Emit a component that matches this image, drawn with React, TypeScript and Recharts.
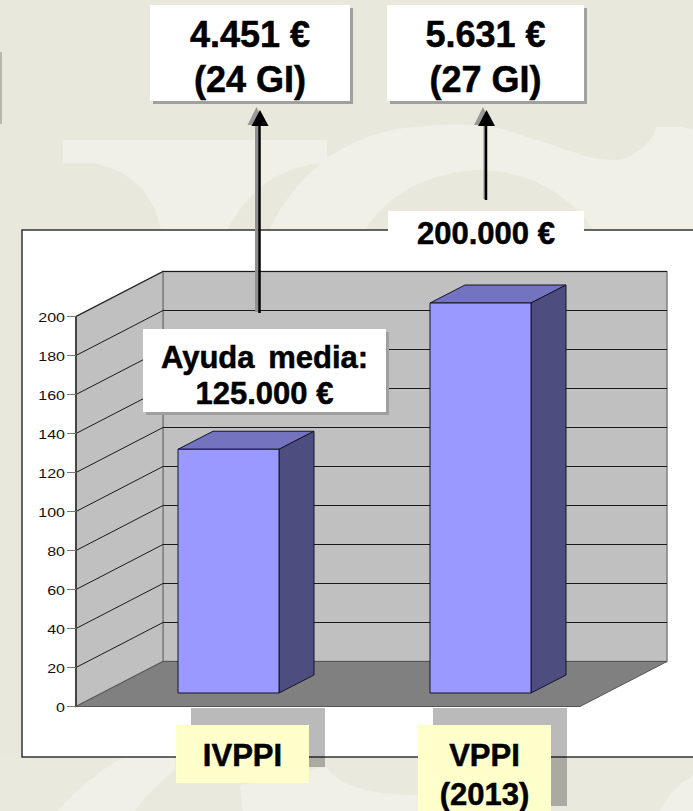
import { Bar, BarChart, ReferenceArea, ReferenceLine, XAxis, YAxis } from "recharts";

const categories = ["IVPPI", "VPPI (2013)"];
const values = [125, 200];
const yTicks = [0, 20, 40, 60, 80, 100, 120, 140, 160, 180, 200];
const gridTicks = [20, 40, 60, 80, 100, 120, 140, 160, 180, 200];

const rows = categories.map((name, i) => ({ name, value: values[i] }));

// the chart is a fake 3D box: the back wall sits this far behind the axis plane
const DEPTH_X = 87;
const DEPTH_Y = 45;
// the bars stand part way into the floor, and have their own depth
const BAR_SHIFT_X = 26;
const BAR_SHIFT_Y = 13.5;
const BAR_DX = 35;
const BAR_DY = 18;

const FONT = '"Liberation Sans", Arial, sans-serif';

function Walls(props: any) {
  const { x, y, width, height } = props;
  const bottom = y + height;
  const right = x + width;
  return (
    <g>
      <polygon
        points={`${x + DEPTH_X},${y - DEPTH_Y} ${right + DEPTH_X},${y - DEPTH_Y} ${right + DEPTH_X},${bottom - DEPTH_Y} ${x + DEPTH_X},${bottom - DEPTH_Y}`}
        fill="#c0c0c0"
        stroke="#808080"
        strokeWidth={1.5}
      />
      <polygon
        points={`${x},${y} ${x + DEPTH_X},${y - DEPTH_Y} ${x + DEPTH_X},${bottom - DEPTH_Y} ${x},${bottom}`}
        fill="#c0c0c0"
        stroke="#808080"
        strokeWidth={1.5}
      />
      <polygon
        points={`${x},${bottom} ${right},${bottom} ${right + DEPTH_X},${bottom - DEPTH_Y} ${x + DEPTH_X},${bottom - DEPTH_Y}`}
        fill="#808080"
        stroke="#555"
      />
    </g>
  );
}

function GridLine(props: any) {
  const { x1, y1, x2 } = props;
  return (
    <polyline
      points={`${x1},${y1} ${x1 + DEPTH_X},${y1 - DEPTH_Y} ${x2 + DEPTH_X},${y1 - DEPTH_Y}`}
      fill="none"
      stroke="#1a1a1a"
      strokeWidth={1}
    />
  );
}

function Bar3D(props: any) {
  const x = props.x + BAR_SHIFT_X;
  const y = props.y - BAR_SHIFT_Y;
  const { width, height } = props;
  const r = x + width;
  const b = y + height;
  return (
    <g stroke="#14142a" strokeWidth={1} strokeLinejoin="round">
      <polygon points={`${x},${y} ${r},${y} ${r + BAR_DX},${y - BAR_DY} ${x + BAR_DX},${y - BAR_DY}`} fill="#7373bf" />
      <polygon points={`${r},${y} ${r + BAR_DX},${y - BAR_DY} ${r + BAR_DX},${b - BAR_DY} ${r},${b}`} fill="#4d4d80" />
      <rect x={x} y={y} width={width} height={height} fill="#9999ff" />
    </g>
  );
}

function ValueTick(props: any) {
  const { x, y, payload } = props;
  return (
    <text
      transform={`translate(${x} ${y + 5.5}) scale(1.28 1)`}
      textAnchor="end"
      fontFamily={FONT}
      fontSize={12.5}
      fill="#111"
    >
      {payload.value}
    </text>
  );
}

const labelBoxes: Record<string, { box: number; shade: number; h: number; shadeH: number }> = {
  IVPPI: { box: 176, shade: 191, h: 58, shadeH: 59 },
  "VPPI (2013)": { box: 418, shade: 433, h: 90, shadeH: 98 },
};

function CategoryTick(props: any) {
  const { payload } = props;
  const b = labelBoxes[payload.value];
  const lines = payload.value.split(" ");
  return (
    <g>
      <rect x={b.shade} y={708} width={134} height={b.shadeH} fill="#000" fillOpacity={0.27} />
      <rect x={b.box} y={725} width={133} height={b.h} fill="#ffffcc" />
      <text
        textAnchor="middle"
        fontFamily={FONT}
        fontWeight="bold"
        fontSize={31}
        fill="#000"
        stroke="#000"
        strokeWidth={0.5}
      >
        {lines.map((line: string, i: number) => (
          <tspan key={line} x={b.box + 66.5} y={766 + i * 39}>
            {line}
          </tspan>
        ))}
      </text>
    </g>
  );
}

type NoteProps = {
  x: number;
  y: number;
  w: number;
  h: number;
  size: number;
  lh: number;
  lines: string[];
  drop: number;
  gap?: number;
  shadow?: boolean;
};

function Note({ x, y, w, h, size, lh, lines, drop, gap = 0, shadow = true }: NoteProps) {
  return (
    <div
      style={{
        position: "absolute",
        left: x,
        top: y,
        width: w,
        height: h,
        background: "#fff",
        boxShadow: shadow ? "3px 3px 0 #a0a0a0" : "none",
        fontFamily: FONT,
        fontWeight: "bold",
        fontSize: size,
        lineHeight: `${lh}px`,
        WebkitTextStroke: "0.5px #000",
        color: "#000",
        textAlign: "center",
        boxSizing: "border-box",
        paddingTop: drop,
      }}
    >
      {lines.map((l, i) => (
        <div key={l} style={{ wordSpacing: i === 0 ? gap : 0 }}>
          {l}
        </div>
      ))}
    </div>
  );
}

function Arrow({ x, top, bottom, shade }: { x: number; top: number; bottom: number; shade: number }) {
  return (
    <g>
      <line x1={x - 1 - shade / 2} y1={top + 14} x2={x - 1 - shade / 2} y2={bottom - 1} stroke="#909090" strokeWidth={shade} />
      <polygon points={`${x - 3},${top - 3} ${x - 12},${top + 15} ${x + 6},${top + 15}`} fill="#999" />
      <line x1={x} y1={top + 14} x2={x} y2={bottom} stroke="#000" strokeWidth={2.5} />
      <polygon points={`${x + 0.5},${top} ${x - 8},${top + 16} ${x + 9},${top + 16}`} fill="#000" />
    </g>
  );
}

export default function App() {
  return (
    <div style={{ position: "absolute", left: 0, top: 0, width: 693, height: 811, overflow: "hidden", background: "#e8e8dc" }}>
      {/* faint watermark behind the slide */}
      <svg width={693} height={811} style={{ position: "absolute", left: 0, top: 0 }}>
        <path d="M63 140 L327 140 L327 163 Q262 165 227 230 L161 230 Q150 175 94 163 L63 163 Z" fill="#f0f0e6" />
        <path
          d="M269 230 Q290 185 332 155 Q370 130 415 127 Q460 122 498 128 Q540 140 582 155 Q615 165 632 155 Q650 145 657 127 L682 127 L693 130 L693 230 L594 230 Q550 170 477 170 Q400 175 365 230 Z"
          fill="#f0f0e6"
        />
        <path d="M0 757 L693 757 L693 811 L0 811 Z" fill="#e9e9de" />
        <path d="M57 811 Q90 775 124 757 L175 757 L175 770 Q150 790 135 811 Z" fill="#f0f0e6" />
        <path d="M243 811 L240 785 L326 767 Q345 795 418 795 L418 811 Z" fill="#f0f0e6" />
        <path d="M693 775 Q670 790 660 811 L693 811 Z" fill="#f0f0e6" />
        <rect x={0} y={52} width={2} height={72} fill="#b8b8b0" />
        <rect x={22} y={230} width={680} height={527} fill="#fff" stroke="#333" strokeWidth={1.5} />
      </svg>

      <div style={{ position: "absolute", left: 0, top: 0 }}>
        <BarChart
          width={693}
          height={811}
          data={rows}
          barSize={101}
          margin={{ top: 316.5, right: 113, bottom: 74.5, left: 0 }}
        >
          <XAxis dataKey="name" height={30} axisLine={false} tickLine={false} interval={0} tick={<CategoryTick />} />
          <YAxis
            type="number"
            domain={[0, 200]}
            ticks={yTicks}
            width={76}
            interval={0}
            tickSize={9}
            axisLine={{ stroke: "#444", strokeWidth: 2 }}
            tickLine={{ stroke: "#777" }}
            tick={<ValueTick />}
          />
          <ReferenceArea y1={0} y2={200} shape={<Walls />} zIndex={10} />
          {gridTicks.map((t) => (
            <ReferenceLine key={t} y={t} shape={<GridLine />} zIndex={20} />
          ))}
          <Bar dataKey="value" shape={<Bar3D />} isAnimationActive={false} />
        </BarChart>
      </div>

      <svg width={693} height={811} style={{ position: "absolute", left: 0, top: 0, pointerEvents: "none" }}>
        <Arrow x={259.5} top={110} bottom={313} shade={3.5} />
        <Arrow x={486} top={110} bottom={200} shade={1.5} />
      </svg>

      <Note x={150} y={5} w={200} h={96} size={36} lh={45} drop={7} lines={["4.451 €", "(24 GI)"]} />
      <Note x={387} y={5} w={197} h={96} size={36} lh={45} drop={7} lines={["5.631 €", "(27 GI)"]} />
      <Note x={143} y={329} w={243} h={83} size={31} lh={36} drop={11} gap={5} lines={["Ayuda media:", "125.000 €"]} />
      <Note x={388} y={211} w={196} h={44} size={31} lh={44} drop={1} shadow={false} lines={["200.000 €"]} />
    </div>
  );
}
